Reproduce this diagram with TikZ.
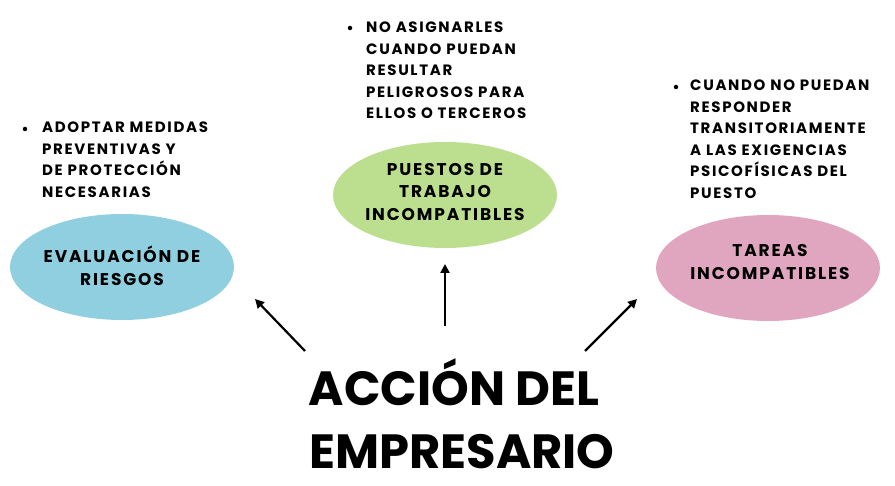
\documentclass[tikz,border=0pt]{standalone}
\usepackage{fontspec}
\setmainfont{Poppins}
\newfontfamily\spaced{Poppins}[LetterSpace=11]
\usetikzlibrary{arrows.meta,shapes.geometric}
\definecolor{cblue}{HTML}{8FCFE0}
\definecolor{cgreen}{HTML}{BCDF8F}
\definecolor{cpink}{HTML}{E0A6BF}
\tikzset{
  blob/.style={ellipse,minimum width=224pt,minimum height=106pt,inner sep=0pt,draw=none},
  blabel/.style={align=center,inner sep=0pt,font=\spaced\bfseries\fontsize{17}{22.5}\selectfont},
  bullettext/.style={anchor=north west,align=left,inner sep=0pt,font=\spaced\bfseries\fontsize{15}{21.5}\selectfont},
  bulletdot/.style={circle,fill=black,inner sep=0pt,minimum size=4.5pt},
  titletext/.style={anchor=base,inner sep=0pt,font=\bfseries\fontsize{48}{60}\selectfont},
  arr/.style={-{Triangle[length=9pt,width=9pt]},line width=2.2pt,black}
}
\begin{document}
\begin{tikzpicture}[x=1pt,y=-1pt]
\useasboundingbox (0,0) rectangle (895,486);
% ellipses
\node[blob,fill=cblue] (e1) at (122,267) {};
\node[blob,fill=cgreen] (e2) at (445,195) {};
\node[blob,fill=cpink] (e3) at (768,268) {};
\node[blabel] (l1) at (122,266) {EVALUACIÓN DE\\RIESGOS};
\node[blabel] (l2) at (445,192) {PUESTOS DE\\TRABAJO\\INCOMPATIBLES};
\node[blabel] (l3) at (770,262) {TAREAS\\INCOMPATIBLES};
% bullets
\node[bulletdot] (d1) at (25,129) {};
\node[bullettext] (t1) at (42,122) {ADOPTAR MEDIDAS\\PREVENTIVAS Y\\DE PROTECCIÓN\\NECESARIAS};
\node[bulletdot] (d2) at (350,28) {};
\node[bullettext] (t2) at (366,22) {NO ASIGNARLES\\CUANDO PUEDAN\\RESULTAR\\PELIGROSOS PARA\\ELLOS O TERCEROS};
\node[bulletdot] (d3) at (676,87) {};
\node[bullettext] (t3) at (690,80) {CUANDO NO PUEDAN\\RESPONDER\\TRANSITORIAMENTE\\A LAS EXIGENCIAS\\PSICOFÍSICAS DEL\\PUESTO};
% title
\node[titletext] (title1) at (454,406) {ACCIÓN DEL};
\node[titletext] (title2) at (462,468) {EMPRESARIO};
% arrows
\coordinate (a1s) at (305,351); \coordinate (a1e) at (255,299);
\coordinate (a2s) at (445,326); \coordinate (a2e) at (445,264);
\coordinate (a3s) at (585,351); \coordinate (a3e) at (637,299);
\draw[arr] (a1s) -- (a1e);
\draw[arr] (a2s) -- (a2e);
\draw[arr] (a3s) -- (a3e);
\end{tikzpicture}
\end{document}
